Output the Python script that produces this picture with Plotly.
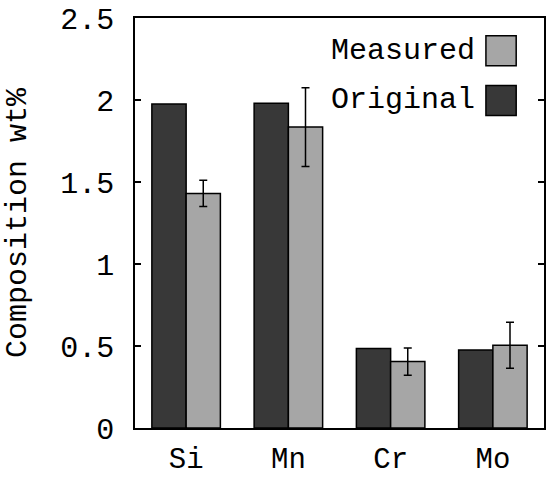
import plotly.graph_objects as go

elements = ["Si", "Mn", "Cr", "Mo"]
original = [1.975, 1.98, 0.485, 0.475]
measured = [1.43, 1.835, 0.405, 0.505]
measured_err = [0.08, 0.24, 0.083, 0.14]
y_ticks = [0, 0.5, 1, 1.5, 2, 2.5]
y_tick_labels = ["0", "0.5", "1", "1.5", "2", "2.5"]

DARK = "#383838"
LIGHT = "#a6a6a6"
FONT = "Liberation Mono, Courier New, monospace"

fig = go.Figure()
fig.add_trace(go.Bar(
    x=elements, y=original, name="Original",
    marker=dict(color=DARK, line=dict(color="black", width=1.5)),
))
fig.add_trace(go.Bar(
    x=elements, y=measured, name="Measured",
    marker=dict(color=LIGHT, line=dict(color="black", width=1.5)),
    error_y=dict(type="data", array=measured_err, color="black",
                 thickness=1.5, width=4),
))

fig.update_layout(
    width=546, height=479,
    margin=dict(l=135, r=2, t=18, b=49),
    paper_bgcolor="white", plot_bgcolor="white",
    barmode="group", bargap=0.33, bargroupgap=0,
    showlegend=False,
    font=dict(family=FONT, size=29, color="black"),
    xaxis=dict(
        range=[-0.5, 3.5], showline=True, linecolor="black", linewidth=1.5,
        mirror=True, ticks="", showgrid=False, zeroline=False,
        tickfont=dict(size=29), ticklabelstandoff=3,
    ),
    yaxis=dict(
        range=[0, 2.5], tickvals=y_ticks, ticktext=y_tick_labels,
        showline=True, linecolor="black", linewidth=1.5, mirror="allticks",
        ticks="inside", ticklen=6, tickwidth=1.5, tickcolor="black",
        showgrid=False, zeroline=False, tickfont=dict(size=30),
        ticklabelstandoff=13, automargin=False,
    ),
)

# Y-axis title
fig.add_annotation(
    text="Composition wt%", textangle=-90, xref="paper", yref="paper",
    x=(18 - 135) / 409, y=0.5, xanchor="center", yanchor="middle",
    showarrow=False, font=dict(size=30),
)

# gnuplot-style legend: label on the left, swatch on the right
legend_items = [("Measured", LIGHT, 0.92), ("Original", DARK, 0.799)]
for label, color, yc in legend_items:
    fig.add_annotation(
        text=label, xref="paper", yref="paper", x=0.836, y=yc,
        xanchor="right", yanchor="middle", showarrow=False,
        font=dict(size=30),
    )
    fig.add_shape(
        type="rect", xref="paper", yref="paper",
        x0=0.858, x1=0.932, y0=yc - 0.0365, y1=yc + 0.0365,
        fillcolor=color, line=dict(color="black", width=1.5),
    )

fig.write_html("out.html")
